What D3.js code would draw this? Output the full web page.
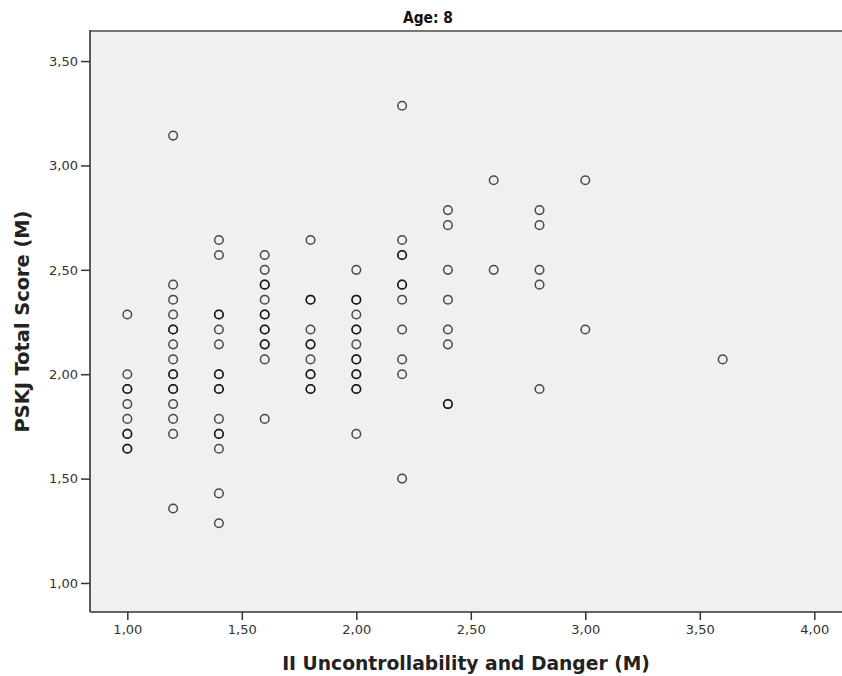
<!DOCTYPE html>
<html>
<head>
<meta charset="utf-8">
<script src="https://cdn.jsdelivr.net/npm/d3@7"></script>
<style>
  body { margin: 0; background: #fff; }
  .tick text { font-family: "DejaVu Sans", sans-serif; font-size: 13px; fill: #333; }
  .tick line { stroke: #333; stroke-width: 1.5; }
  .domain { display: none; }
</style>
</head>
<body>
<div id="scatter-area"></div>
<script>
// x groups (II Uncontrollability and Danger, M)
var xGroups = [1.0, 1.2, 1.4, 1.6, 1.8, 2.0, 2.2, 2.4, 2.6, 2.8, 3.0, 3.6];

// PSKJ total scores per x group (repeats = overlapping points)
var scoresAt100 = [2.286, 2.0, 1.929, 1.929, 1.857, 1.786, 1.714, 1.714, 1.643, 1.643];
var scoresAt120 = [3.143, 2.429, 2.357, 2.286, 2.214, 2.214, 2.143, 2.071, 2.0, 2.0, 1.929, 1.929, 1.857, 1.786, 1.714, 1.357];
var scoresAt140 = [2.643, 2.571, 2.286, 2.286, 2.214, 2.143, 2.0, 2.0, 1.929, 1.929, 1.786, 1.714, 1.714, 1.643, 1.429, 1.286];
var scoresAt160 = [2.571, 2.5, 2.429, 2.429, 2.357, 2.286, 2.286, 2.214, 2.214, 2.143, 2.143, 2.071, 1.786];
var scoresAt180 = [2.643, 2.357, 2.357, 2.214, 2.143, 2.143, 2.071, 2.0, 2.0, 1.929, 1.929];
var scoresAt200 = [2.5, 2.357, 2.357, 2.286, 2.214, 2.214, 2.143, 2.071, 2.071, 2.0, 2.0, 1.929, 1.929, 1.714];
var scoresAt220 = [3.286, 2.643, 2.571, 2.571, 2.429, 2.429, 2.357, 2.214, 2.071, 2.0, 1.5];
var scoresAt240 = [2.786, 2.714, 2.5, 2.357, 2.214, 2.143, 1.857, 1.857];
var scoresAt260 = [2.929, 2.5];
var scoresAt280 = [2.786, 2.714, 2.5, 2.429, 1.929];
var scoresAt300 = [2.929, 2.214];
var scoresAt360 = [2.071];

var scoreGroups = [scoresAt100, scoresAt120, scoresAt140, scoresAt160, scoresAt180, scoresAt200,
                   scoresAt220, scoresAt240, scoresAt260, scoresAt280, scoresAt300, scoresAt360];

var xTicks = [1.0, 1.5, 2.0, 2.5, 3.0, 3.5, 4.0];
var yTicks = [1.0, 1.5, 2.0, 2.5, 3.0, 3.5];

var chartTitle = "Age: 8";
var xLabel = "II Uncontrollability and Danger (M)";
var yLabel = "PSKJ Total Score (M)";

var points = [];
xGroups.forEach(function(x, i){
    scoreGroups[i].forEach(function(s){ points.push({x: x, y: s}); });
});

var W = 842, H = 676;
var margin = {top: 31, right: 0, bottom: 64, left: 90};
var width = W - margin.left - margin.right;
var height = H - margin.top - margin.bottom;

var svg = d3.select("#scatter-area").append("svg")
    .attr("width", W)
    .attr("height", H);

var g = svg.append("g")
    .attr("transform", "translate(" + margin.left + "," + margin.top + ")");

var x = d3.scaleLinear().domain([0.837, 4.121]).range([0, width]);
var y = d3.scaleLinear().domain([0.861, 3.644]).range([height, 0]);

var fmt = function(d){ return d3.format(".2f")(d).replace(".", ","); };

g.append("rect")
    .attr("width", width)
    .attr("height", height)
    .attr("fill", "#f0f0f0");

g.append("g")
    .attr("class", "x-axis")
    .attr("transform", "translate(0," + height + ")")
    .call(d3.axisBottom(x).tickValues(xTicks).tickFormat(fmt).tickSize(8).tickPadding(5));

g.append("g")
    .attr("class", "y-axis")
    .call(d3.axisLeft(y).tickValues(yTicks).tickFormat(fmt).tickSize(9).tickPadding(3));

// frame
g.append("line").attr("x1", 0).attr("x2", width).attr("y1", 0).attr("y2", 0)
    .attr("stroke", "#777").attr("stroke-width", 2);
g.append("line").attr("x1", 0).attr("x2", 0).attr("y1", -1).attr("y2", height)
    .attr("stroke", "#333").attr("stroke-width", 1.6);
g.append("line").attr("x1", 0).attr("x2", width).attr("y1", height).attr("y2", height)
    .attr("stroke", "#333").attr("stroke-width", 1.6);

g.selectAll(".pt")
    .data(points)
    .enter()
    .append("circle")
    .attr("class", "pt")
    .attr("cx", function(d){ return x(d.x); })
    .attr("cy", function(d){ return y(d.y); })
    .attr("r", 4.3)
    .attr("fill", "none")
    .attr("stroke", "#000")
    .attr("stroke-opacity", 0.7)
    .attr("stroke-width", 1.5);

// shrink/grow a label's font size until it spans the wanted width
function fitText(sel, target){
    var size = parseFloat(sel.style("font-size"));
    var len = sel.node().getComputedTextLength();
    sel.style("font-size", (size * target / len) + "px");
}

var title = svg.append("text")
    .attr("x", 428)
    .attr("y", 23)
    .attr("text-anchor", "middle")
    .style("font-family", "'Liberation Sans Narrow', 'DejaVu Sans Condensed', 'DejaVu Sans', sans-serif")
    .style("font-weight", "bold")
    .style("font-size", "15px")
    .style("fill", "#111")
    .text(chartTitle);
fitText(title, 50);

var xt = svg.append("text")
    .attr("x", margin.left + width / 2)
    .attr("y", 670)
    .attr("text-anchor", "middle")
    .style("font-family", "'DejaVu Sans', sans-serif")
    .style("font-weight", "bold")
    .style("font-size", "17px")
    .style("fill", "#222")
    .text(xLabel);
fitText(xt, 368);

var yt = svg.append("text")
    .attr("transform", "translate(29," + (margin.top + height / 2) + ") rotate(-90)")
    .attr("text-anchor", "middle")
    .style("font-family", "'DejaVu Sans', sans-serif")
    .style("font-weight", "bold")
    .style("font-size", "17px")
    .style("fill", "#222")
    .text(yLabel);
fitText(yt, 222);
</script>
</body>
</html>
